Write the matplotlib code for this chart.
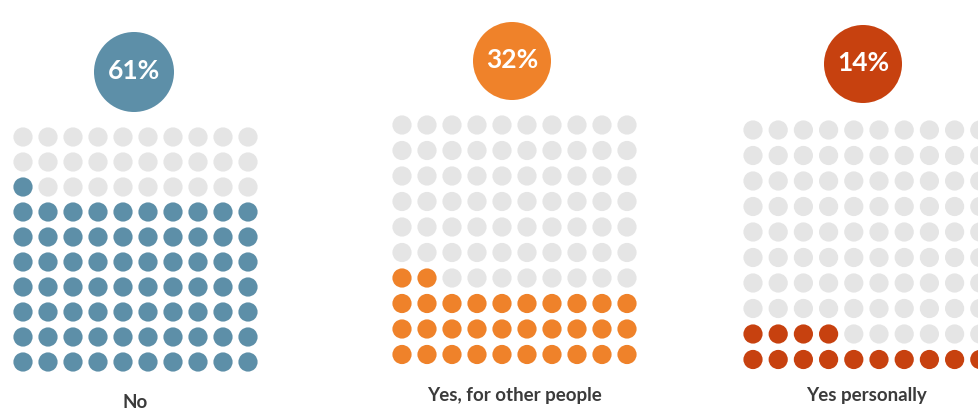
"""
Waffle charts: three 10x10 dot grids with a percentage badge above each
"""
import matplotlib
matplotlib.use("Agg")
import matplotlib.pyplot as plt
from matplotlib.patches import Circle

categories = ["No", "Yes, for other people", "Yes personally"]
badge_labels = ["61%", "32%", "14%"]
# puntos coloreados tal como aparecen en la imagen (de 100)
filled_dots = [71, 32, 14]
colors = ["#5d8fa8", "#ef822a", "#c7410f"]

EMPTY = "#e5e5e5"
TEXT = "#3b3b3b"

# posicion de cada panel en pixeles (x0, y0 del primer punto, paso x, paso y)
grids = [(23, 137, 25.0, 25.0), (402, 125, 25.0, 25.5), (753, 130, 25.2, 25.5)]
badges = [(134, 72, 40), (512, 61, 39), (863, 64, 39)]
label_y = [403, 395, 396]
DOT_R = 9.6

fig = plt.figure(figsize=(9.79, 4.12), dpi=100)
ax = fig.add_axes([0, 0, 1, 1])
ax.set_xlim(0, 979)
ax.set_ylim(412, 0)
ax.set_aspect("equal")
ax.axis("off")

for k in range(len(categories)):
    x0, y0, dx, dy = grids[k]
    # puntos llenados de abajo hacia arriba, de izquierda a derecha
    for i in range(100):
        row = 9 - i // 10
        col = i % 10
        c = colors[k] if i < filled_dots[k] else EMPTY
        ax.add_patch(Circle((x0 + col * dx, y0 + row * dy), DOT_R,
                            facecolor=c, edgecolor="none"))

    bx, by, br = badges[k]
    ax.add_patch(Circle((bx, by), br, facecolor=colors[k], edgecolor="none"))
    ax.text(bx, by - 1, badge_labels[k], color="white", fontsize=19,
            fontweight="bold", family=["Lato", "DejaVu Sans"],
            ha="center", va="center")

    ax.text(x0 + 4.5 * dx, label_y[k], categories[k], color=TEXT,
            fontsize=13.5, fontweight="bold", family=["Lato", "DejaVu Sans"],
            ha="center", va="center")

fig.savefig("out.png", dpi=100, facecolor="white")
